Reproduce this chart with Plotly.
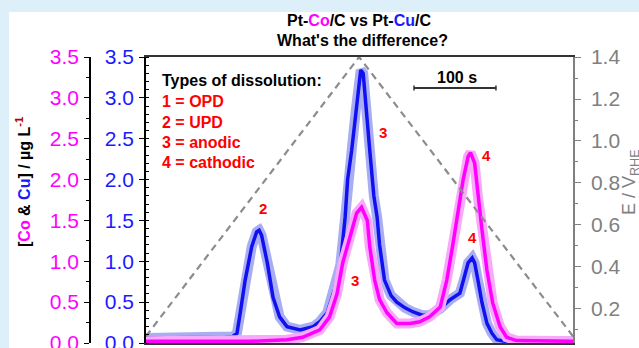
import plotly.graph_objects as go

# ---- data ----
# Cu (blue) dissolution profile: time (s) vs concentration (µg/L)
cu_time = [0, 66, 96, 106, 111, 115, 121, 129, 135, 138,
           141, 148, 155, 163, 172, 188, 204, 212, 221, 230,
           237, 243, 246, 251, 256, 260, 262, 265, 268, 273,
           278, 282, 285, 291, 299, 306, 316, 326, 337, 346,
           359, 371, 383, 389, 393, 398, 401, 405, 410, 416,
           422, 428, 438, 521]
cu_conc = [0.06, 0.06, 0.07, 0.08, 0.12, 0.37, 0.77, 1.18, 1.36, 1.38,
           1.32, 0.98, 0.56, 0.32, 0.20, 0.16, 0.20, 0.26, 0.37, 0.65,
           0.95, 1.54, 2.00, 2.36, 2.85, 3.20, 3.34, 3.30, 2.90, 2.36,
           1.80, 1.54, 1.20, 0.77, 0.58, 0.50, 0.43, 0.38, 0.34, 0.34,
           0.42, 0.53, 0.61, 0.81, 0.98, 1.04, 0.98, 0.77, 0.49, 0.24,
           0.12, 0.04, 0.02, 0.02]

# Co (magenta) dissolution profile
co_time = [0, 127, 172, 191, 212, 224, 233, 240, 249, 257,
           263, 270, 273, 279, 285, 294, 306, 322, 334, 346,
           359, 367, 374, 380, 387, 393, 396, 401, 405, 410,
           416, 423, 432, 440, 452, 521]
co_conc = [0.02, 0.02, 0.04, 0.07, 0.16, 0.32, 0.60, 0.98, 1.30, 1.59,
           1.66, 1.50, 1.18, 0.77, 0.53, 0.37, 0.24, 0.24, 0.26, 0.32,
           0.44, 0.77, 1.18, 1.59, 2.00, 2.28, 2.33, 2.20, 1.79, 1.38,
           0.89, 0.49, 0.20, 0.07, 0.03, 0.02]

# Potential program (triangular sweep)
e_time = [0, 260, 521]
e_volt = [0.07, 1.40, 0.07]

conc_ticks = [0.0, 0.5, 1.0, 1.5, 2.0, 2.5, 3.0, 3.5]
e_ticks = [0.2, 0.4, 0.6, 0.8, 1.0, 1.2, 1.4]

# peak labels: (time, conc, text)
peak_label_t = [143, 289, 255, 416, 398]
peak_label_c = [1.65, 2.58, 0.77, 2.30, 1.29]
peak_label_txt = ["2", "3", "3", "4", "4"]

legend_lines = ["1 = OPD", "2 = UPD", "3 = anodic", "4 = cathodic"]
scale_bar_s = 100

# ---- figure ----
FONT = "Liberation Sans, Arial, sans-serif"
W, H = 639, 348
ML, MR, MT, MB = 10, 66, 57, 5
PW = W - ML - MR
PH = H - MT - MB


def px_x(px):
    return (px - ML) / PW


def px_y(py):
    return (H - MB - py) / PH


BLUE = "#1010f0"
BLUE_HALO = "#a9aef3"
MAG = "#ff00ff"
MAG_HALO = "#f9a9f9"
GRAY = "#808080"

fig = go.Figure()

fig.add_trace(go.Scatter(x=e_time, y=e_volt, yaxis="y3", mode="lines",
                         line=dict(color="#8c8c8c", width=2.2, dash="7px,5px"),
                         hoverinfo="skip", showlegend=False))
fig.add_trace(go.Scatter(x=cu_time, y=cu_conc, yaxis="y", mode="lines",
                         line=dict(color=BLUE_HALO, width=10), showlegend=False))
fig.add_trace(go.Scatter(x=cu_time, y=cu_conc, yaxis="y", mode="lines",
                         line=dict(color=BLUE, width=3.5), showlegend=False))
fig.add_trace(go.Scatter(x=co_time, y=co_conc, yaxis="y2", mode="lines",
                         line=dict(color=MAG_HALO, width=10), showlegend=False))
fig.add_trace(go.Scatter(x=co_time, y=co_conc, yaxis="y2", mode="lines",
                         line=dict(color=MAG, width=3.5), showlegend=False))

x0dom = px_x(146)

fig.update_layout(
    width=W, height=H, autosize=False,
    margin=dict(l=ML, r=MR, t=MT, b=MB, pad=0, autoexpand=False),
    paper_bgcolor="#ddf0f9", plot_bgcolor="white",
    font=dict(family=FONT, size=14, color="black"),
    showlegend=False,
    xaxis=dict(domain=[x0dom, 1], range=[0, 521], showline=True,
               linecolor="#333333", linewidth=2, mirror=True, automargin=False,
               showticklabels=False, ticks="", showgrid=False, zeroline=False),
    yaxis=dict(range=[0, 3.5], anchor="x", side="left", showline=True,
               linecolor="black", linewidth=1.5, ticks="outside", ticklen=5,
               tickcolor="black", tickwidth=1.2, tickvals=conc_ticks,
               tickformat=".1f", tickfont=dict(color="#1a1aff", size=21, family=FONT),
               ticklabelstandoff=1, ticklabeloverflow="allow", automargin=False,
               minor=dict(ticks="inside", dtick=0.1, tick0=0, ticklen=3,
                          tickcolor="black"),
               showgrid=False, zeroline=False),
    yaxis2=dict(range=[0, 3.5], overlaying="y", anchor="free",
                position=px_x(90), side="left", showline=True,
                linecolor="black", linewidth=1.5, ticks="outside", ticklen=5,
                tickcolor="black", tickwidth=1.2, tickvals=conc_ticks,
                tickformat=".1f", tickfont=dict(color=MAG, size=21, family=FONT),
                ticklabelstandoff=1, ticklabeloverflow="allow", automargin=False,
                minor=dict(ticks="outside", dtick=0.25, tick0=0, ticklen=3,
                           tickcolor="black"),
                showgrid=False, zeroline=False),
    yaxis3=dict(range=[0.038, 1.4], overlaying="y", anchor="x", side="right",
                showline=True, linecolor=GRAY, linewidth=1.5, ticks="outside",
                ticklen=6, tickcolor=GRAY, tickvals=e_ticks, tickformat=".1f",
                tickfont=dict(color=GRAY, size=21, family=FONT),
                ticklabelstandoff=6, ticklabeloverflow="allow", automargin=False,
                minor=dict(ticks="outside", dtick=0.1, tick0=0, ticklen=3,
                           tickcolor=GRAY),
                showgrid=False, zeroline=False),
)

# white panel over the light-blue frame
fig.add_shape(type="rect", xref="paper", yref="paper",
              x0=px_x(9), x1=px_x(W + 5), y0=px_y(H + 5), y1=px_y(12),
              fillcolor="white", line=dict(width=0), layer="below")

ann = []
# title
ann.append(dict(xref="paper", yref="paper", x=px_x(359), y=px_y(20),
                text="<b>Pt-<span style='color:#ff00ff'>Co</span>/C vs Pt-"
                     "<span style='color:#1a1aff'>Cu</span>/C</b>",
                showarrow=False, xanchor="center", yanchor="middle",
                font=dict(size=16, color="black", family=FONT)))
ann.append(dict(xref="paper", yref="paper", x=px_x(362), y=px_y(40),
                text="<b>What's the difference?</b>",
                showarrow=False, xanchor="center", yanchor="middle",
                font=dict(size=16, color="black", family=FONT)))
# left axis title
ann.append(dict(xref="paper", yref="paper", x=px_x(23), y=px_y(182),
                text="<b>[<span style='color:#ff00ff'>Co</span> &amp; "
                     "<span style='color:#1a1aff'>Cu</span>] / µg L"
                     "<sup><span style='color:#b00000'>-1</span></sup></b>",
                textangle=-90, showarrow=False, xanchor="center",
                yanchor="middle", font=dict(size=16, color="black", family=FONT)))
# right axis title
ann.append(dict(xref="paper", yref="paper", x=px_x(630), y=px_y(182),
                text="E / V<sub>RHE</sub>", textangle=-90, showarrow=False,
                xanchor="center", yanchor="middle",
                font=dict(size=18, color=GRAY, family=FONT)))
# dissolution-type box
ann.append(dict(xref="paper", yref="paper", x=px_x(160), y=px_y(80),
                text="<b>Types of dissolution:</b>", showarrow=False,
                xanchor="left", yanchor="middle",
                font=dict(size=16, color="black", family=FONT)))
for i, line in enumerate(legend_lines):
    ann.append(dict(xref="paper", yref="paper", x=px_x(160),
                    y=px_y(102 + 20 * i), text="<b>" + line + "</b>",
                    showarrow=False, xanchor="left", yanchor="middle",
                    font=dict(size=16, color="#ff0000", family=FONT)))
# peak labels
for t, c, s in zip(peak_label_t, peak_label_c, peak_label_txt):
    ann.append(dict(xref="x", yref="y", x=t, y=c, text="<b>" + s + "</b>",
                    showarrow=False, xanchor="center", yanchor="middle",
                    font=dict(size=15, color="#ff0000", family=FONT)))
# scale bar
sb_x0 = 327
sb_y = 3.12
ann.append(dict(xref="x", yref="y", x=sb_x0 + scale_bar_s / 2 + 2, y=3.25,
                text="<b>%d s</b>" % scale_bar_s, showarrow=False,
                xanchor="center", yanchor="middle",
                font=dict(size=16, color="black", family=FONT)))
fig.update_layout(annotations=ann)

fig.add_shape(type="line", xref="x", yref="y", x0=sb_x0, x1=sb_x0 + scale_bar_s,
              y0=sb_y, y1=sb_y, line=dict(color="#333333", width=2))
for xx in (sb_x0, sb_x0 + scale_bar_s):
    fig.add_shape(type="line", xref="x", yref="y", x0=xx, x1=xx,
                  y0=sb_y - 0.03, y1=sb_y + 0.03,
                  line=dict(color="#333333", width=1.5))

fig.write_html("out.html")
